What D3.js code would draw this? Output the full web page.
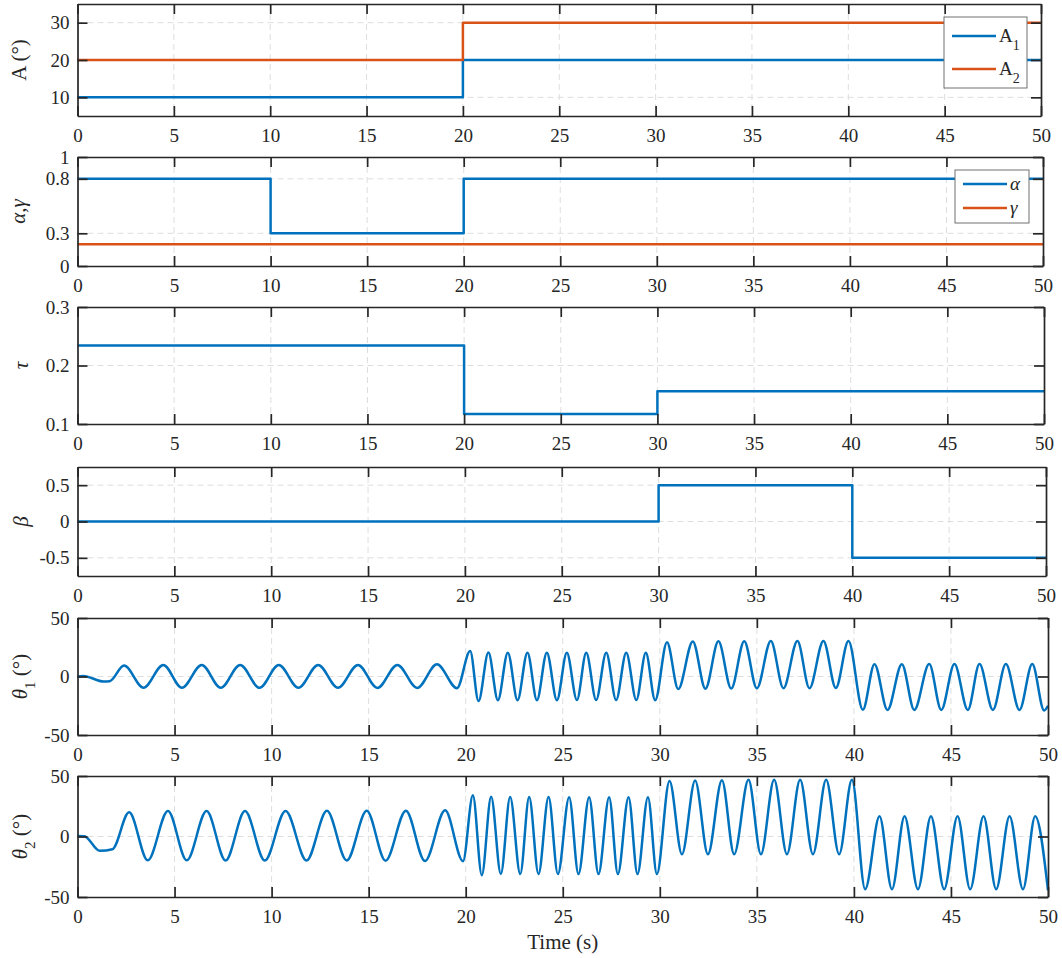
<!DOCTYPE html>
<html>
<head>
<meta charset="utf-8">
<script src="https://cdn.jsdelivr.net/npm/d3@7"></script>
<style>
  body { margin: 0; background: #fff; }
  text { font-family: "Liberation Serif", "Times New Roman", Times, "DejaVu Serif", serif; }
</style>
</head>
<body>
<div id="chart-area"></div>
<script>
// ---- data ----
var timeTicks = [0, 5, 10, 15, 20, 25, 30, 35, 40, 45, 50];

var aTimes = [0, 20, 50];
var a1Values = [10, 20, 20];
var a2Values = [20, 30, 30];

var agTimes = [0, 10, 20, 50];
var alphaValues = [0.8, 0.3, 0.8, 0.8];
var gammaValues = [0.2, 0.2, 0.2, 0.2];

var tauTimes = [0, 20, 30, 50];
var tauValues = [0.234, 0.117, 0.156, 0.156];

var betaTimes = [0, 30, 40, 50];
var betaValues = [0, 0.5, -0.5, -0.5];

// theta curves: start points and the peaks / troughs
var theta1Times = [0, 0.3, 1.35, 1.65, 2.4, 3.4, 4.42, 5.38, 6.4, 7.38, 8.38, 9.38, 10.37, 11.38, 12.4, 13.42, 14.45, 15.45, 16.48, 17.5, 18.52, 19.55,
    20.23, 20.66, 21.17, 21.66, 22.17, 22.67, 23.18, 23.67, 24.18, 24.7, 25.21, 25.73, 26.21, 26.72, 27.24, 27.75, 28.27, 28.79, 29.28, 29.76,
    30.37, 30.95, 31.7, 32.35, 33.02, 33.68, 34.35, 35.0, 35.72, 36.37, 37.09, 37.71, 38.43, 39.07, 39.72,
    40.46, 41.06, 41.73, 42.47, 43.11, 43.88, 44.5, 45.18, 45.87, 46.47, 47.16, 47.83, 48.53, 49.19, 49.8, 50];
var theta1Values = [0, 0.5, -4.3, -4.1, 9.4, -9.6, 9.8, -9.7, 9.8, -9.7, 9.8, -9.7, 9.8, -9.7, 9.9, -9.7, 9.9, -9.8, 9.9, -9.8, 10.5, -10,
    21.8, -21, 20.5, -20.2, 20.4, -20.2, 20.4, -20.2, 20.4, -20.2, 20.3, -20.1, 20.3, -20.1, 20.3, -20.1, 20.3, -20.1, 20.3, -20.3,
    29.3, -10.7, 30, -10.5, 30.1, -10.3, 30.2, -10, 30.3, -10, 30.3, -10, 30.3, -9.8, 30.3,
    -28.5, 10.5, -28.6, 10.5, -28.6, 10.6, -28.6, 10.6, -28.6, 10.6, -28.6, 10.6, -28.6, 10.6, -29, -25];

var theta2Times = [0, 0.35, 1.15, 1.8, 2.66, 3.62, 4.66, 5.63, 6.65, 7.63, 8.63, 9.65, 10.72, 11.8, 12.85, 13.87, 14.9, 15.87, 16.92, 17.9, 18.94, 19.86,
    20.37, 20.83, 21.31, 21.81, 22.29, 22.81, 23.27, 23.75, 24.27, 24.75, 25.33, 25.81, 26.36, 26.84, 27.39, 27.84, 28.39, 28.85, 29.39, 29.85,
    30.5, 31.14, 31.82, 32.48, 33.2, 33.83, 34.57, 35.21, 35.89, 36.55, 37.23, 37.89, 38.57, 39.24, 39.9,
    40.58, 41.32, 41.96, 42.61, 43.3, 43.97, 44.65, 45.34, 45.99, 46.68, 47.33, 48.02, 48.71, 49.34, 50];
var theta2Values = [0.5, 0.3, -11.8, -10.5, 20, -19.7, 21, -19.7, 21, -19.8, 21, -19.8, 21, -19.8, 21.2, -19.8, 21.2, -20, 21.3, -20.3, 21.6, -20.4,
    34, -32, 32.8, -31, 32.6, -31, 32.6, -31, 32.6, -31, 32.5, -31, 32.5, -31, 32.5, -31, 32.5, -31, 32.5, -31,
    45.9, -14.7, 46.2, -14.7, 46.5, -14.7, 46.8, -14.7, 46.8, -14.7, 46.8, -14.7, 46.8, -14.7, 46.8,
    -43.6, 16.7, -43.6, 16.7, -43.6, 16.7, -43.6, 16.7, -43.6, 16.7, -43.6, 16.7, -43.6, 16.7, -44.5];

// ---- layout ----
var width = 1062, height = 958, left = 77.5;
var blue = "#0072BD", orange = "#D95319", ink = "#262626";
var serif = "'Liberation Serif', 'Times New Roman', Times, 'DejaVu Serif', serif";

var svg = d3.select("#chart-area")
    .append("svg")
        .attr("width", width)
        .attr("height", height);

svg.append("rect").attr("width", width).attr("height", height).attr("fill", "#fff");

function toPoints(times, values){
    return times.map(function(t, i){ return [t, values[i]]; });
}

// label parts: [text, italic, subscript]
var panels = [
    { top: 4, bottom: 116, right: 1041, domain: [5, 35], ticks: [10, 20, 30], labelX: 26,
      label: [["A", false], [" (°)", false]],
      series: [ { pts: toPoints(aTimes, a1Values), color: blue, curve: d3.curveStepAfter },
                { pts: toPoints(aTimes, a2Values), color: orange, curve: d3.curveStepAfter } ],
      legend: { w: 83, h: 71, items: [ { color: blue, parts: [["A", false], ["1", false, true]] },
                                       { color: orange, parts: [["A", false], ["2", false, true]] } ] } },
    { top: 157, bottom: 266, right: 1043, domain: [0, 1], ticks: [0, 0.3, 0.8, 1], labelX: 25,
      label: [["α", true], [",", false], ["γ", true]],
      series: [ { pts: toPoints(agTimes, alphaValues), color: blue, curve: d3.curveStepAfter },
                { pts: toPoints(agTimes, gammaValues), color: orange, curve: d3.curveStepAfter } ],
      legend: { w: 74, h: 53, items: [ { color: blue, parts: [["α", true]] },
                                       { color: orange, parts: [["γ", true]] } ] } },
    { top: 307, bottom: 424, right: 1044, domain: [0.1, 0.3], ticks: [0.1, 0.2, 0.3], labelX: 28,
      label: [["τ", true]],
      series: [ { pts: toPoints(tauTimes, tauValues), color: blue, curve: d3.curveStepAfter } ] },
    { top: 467, bottom: 576, right: 1046, domain: [-0.75, 0.75], ticks: [-0.5, 0, 0.5], labelX: 27.5,
      label: [["β", true]],
      series: [ { pts: toPoints(betaTimes, betaValues), color: blue, curve: d3.curveStepAfter } ] },
    { top: 618, bottom: 735, right: 1048, domain: [-50, 50], ticks: [-50, 0, 50], labelX: 27,
      label: [["θ", true], ["1", false, true], [" (°)", false]],
      series: [ { pts: toPoints(theta1Times, theta1Values), color: blue, curve: d3.curveMonotoneX } ] },
    { top: 776, bottom: 897, right: 1048, domain: [-50, 50], ticks: [-50, 0, 50], labelX: 27,
      label: [["θ", true], ["2", false, true], [" (°)", false]],
      series: [ { pts: toPoints(theta2Times, theta2Values), color: blue, curve: d3.curveMonotoneX } ] }
];

function writeParts(textSel, parts, subSize, subShift){
    var lastSub = false;
    parts.forEach(function(p){
        var t = textSel.append("tspan").text(p[0]);
        if (p[1]) t.attr("font-style", "italic");
        if (p[2]) t.attr("font-size", subSize).attr("dy", subShift);
        else if (lastSub) t.attr("dy", -subShift);
        lastSub = !!p[2];
    });
}

function styleAxis(sel){
    sel.attr("font-family", serif)
       .attr("font-size", 19)
       .attr("color", ink);
    sel.select(".domain").attr("stroke-width", 1.7);
    sel.selectAll(".tick line").attr("stroke-width", 1.7);
}

function drawPanel(p){
    var x = d3.scaleLinear().domain([0, 50]).range([left, p.right]);
    var y = d3.scaleLinear().domain(p.domain).range([p.bottom, p.top]);
    var g = svg.append("g");

    // dashed grid
    g.selectAll(".grid-x")
        .data(timeTicks.filter(function(t){ return t > 0 && t < 50; }))
        .enter().append("line")
            .attr("x1", function(d){ return x(d); }).attr("x2", function(d){ return x(d); })
            .attr("y1", p.top).attr("y2", p.bottom)
            .attr("stroke", "#dedede").attr("stroke-width", 1).attr("stroke-dasharray", "6,4");
    g.selectAll(".grid-y")
        .data(p.ticks.filter(function(v){ return v > p.domain[0] && v < p.domain[1]; }))
        .enter().append("line")
            .attr("x1", left).attr("x2", p.right)
            .attr("y1", function(d){ return y(d); }).attr("y2", function(d){ return y(d); })
            .attr("stroke", "#dedede").attr("stroke-width", 1).attr("stroke-dasharray", "6,4");

    // series
    p.series.forEach(function(s){
        var line = d3.line()
            .x(function(d){ return x(d[0]); })
            .y(function(d){ return y(d[1]); })
            .curve(s.curve);
        g.append("path")
            .datum(s.pts)
            .attr("d", line)
            .attr("fill", "none")
            .attr("stroke", s.color)
            .attr("stroke-width", 2.5)
            .attr("stroke-linejoin", "round");
    });

    // box axes, ticks pointing inward
    g.append("g").attr("transform", "translate(0," + p.bottom + ")")
        .call(d3.axisBottom(x).tickValues(timeTicks).tickSizeInner(-10).tickSizeOuter(0).tickPadding(13))
        .call(styleAxis);
    g.append("g").attr("transform", "translate(0," + p.top + ")")
        .call(d3.axisTop(x).tickValues(timeTicks).tickSizeInner(-10).tickSizeOuter(0).tickFormat(""))
        .call(styleAxis);
    g.append("g").attr("transform", "translate(" + left + ",0)")
        .call(d3.axisLeft(y).tickValues(p.ticks).tickSizeInner(-10).tickSizeOuter(0).tickPadding(8)
            .tickFormat(function(d){ return String(d); }))
        .call(styleAxis);
    g.append("g").attr("transform", "translate(" + p.right + ",0)")
        .call(d3.axisRight(y).tickValues(p.ticks).tickSizeInner(-10).tickSizeOuter(0).tickFormat(""))
        .call(styleAxis);

    // y label
    var lab = g.append("text")
        .attr("transform", "translate(" + p.labelX + "," + (p.top + p.bottom) / 2 + ") rotate(-90)")
        .attr("text-anchor", "middle")
        .attr("font-family", serif)
        .attr("font-size", 21)
        .attr("fill", ink);
    writeParts(lab, p.label, 15, 8);

    // legend
    if (p.legend){
        var lx = p.right - 14 - p.legend.w, ly = p.top + 13;
        var lg = g.append("g").attr("transform", "translate(" + lx + "," + ly + ")");
        lg.append("rect")
            .attr("width", p.legend.w).attr("height", p.legend.h)
            .attr("fill", "#fff").attr("stroke", "#707070").attr("stroke-width", 1);
        var step = p.legend.h > 60 ? 33 : 24;
        var y0 = p.legend.h > 60 ? 19 : 14;
        p.legend.items.forEach(function(it, i){
            var yy = y0 + i * step;
            lg.append("line")
                .attr("x1", 8).attr("x2", 52).attr("y1", yy).attr("y2", yy)
                .attr("stroke", it.color).attr("stroke-width", 2.5);
            var t = lg.append("text")
                .attr("x", 55).attr("y", yy + 6)
                .attr("font-family", serif)
                .attr("font-size", 19).attr("fill", ink);
            writeParts(t, it.parts, 14, 8);
        });
    }
}

panels.forEach(drawPanel);

svg.append("text")
    .attr("x", (left + 1048) / 2)
    .attr("y", 948.5)
    .attr("text-anchor", "middle")
    .attr("font-family", serif)
    .attr("font-size", 21)
    .attr("fill", ink)
    .text("Time (s)");
</script>
</body>
</html>
